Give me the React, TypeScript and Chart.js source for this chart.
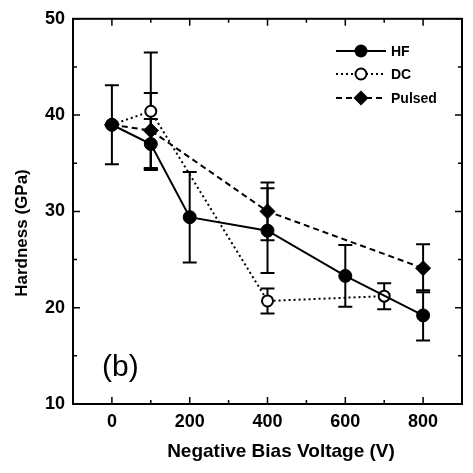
import React, { useEffect, useRef } from 'react';
import { Chart, registerables } from 'chart.js';

Chart.register(...registerables);

// ---- data ----
const hfX = [0, 100, 200, 400, 600, 800];
const hfY = [39, 37, 29.4, 28, 23.3, 19.2];
const hfErr = [4.1, 2.6, 4.7, 4.4, 3.2, 2.6];

const dcX = [0, 100, 400, 700];
const dcY = [39, 40.4, 20.7, 21.2];
const dcErr = [0, 6.1, 1.3, 1.35];

const pulsedX = [0, 100, 400, 800];
const pulsedY = [39, 38.4, 30, 24.1];
const pulsedErr = [0, 3.9, 3.0, 2.5];

const xTicks = [0, 200, 400, 600, 800];
const xMinorTicks = [100, 300, 500, 700];
const yTicks = [10, 20, 30, 40, 50];
const yMinorTicks = [15, 25, 35, 45];

const seriesNames = ['HF', 'DC', 'Pulsed'];
const xTitle = 'Negative Bias Voltage (V)';
const yTitle = 'Hardness (GPa)';
const panelLabel = '(b)';

const FONT = '"Liberation Sans", Arial, Helvetica, sans-serif';

function drawMarker(ctx: CanvasRenderingContext2D, kind: string, x: number, y: number) {
  ctx.save();
  ctx.setLineDash([]);
  ctx.strokeStyle = '#000';
  if (kind === 'HF') {
    ctx.fillStyle = '#000';
    ctx.beginPath();
    ctx.arc(x, y, 6.5, 0, Math.PI * 2);
    ctx.fill();
  } else if (kind === 'DC') {
    ctx.fillStyle = '#fff';
    ctx.lineWidth = 2;
    ctx.beginPath();
    ctx.arc(x, y, 5.5, 0, Math.PI * 2);
    ctx.fill();
    ctx.stroke();
  } else {
    ctx.fillStyle = '#000';
    ctx.beginPath();
    ctx.moveTo(x, y - 7.5);
    ctx.lineTo(x + 7.5, y);
    ctx.lineTo(x, y + 7.5);
    ctx.lineTo(x - 7.5, y);
    ctx.closePath();
    ctx.fill();
  }
  ctx.restore();
}

const decorPlugin = {
  id: 'decor',
  beforeDatasetsDraw(chart: any) {
    const { ctx, scales } = chart;
    const xs = scales.x;
    const ys = scales.y;
    ctx.save();
    ctx.strokeStyle = '#000';
    ctx.lineWidth = 2;
    ctx.setLineDash([]);
    chart.data.datasets.forEach((ds: any) => {
      ds.data.forEach((p: any) => {
        if (!p.err) return;
        const px = xs.getPixelForValue(p.x);
        const top = ys.getPixelForValue(p.y + p.err);
        const bot = ys.getPixelForValue(p.y - p.err);
        ctx.beginPath();
        ctx.moveTo(px, top);
        ctx.lineTo(px, bot);
        ctx.moveTo(px - 7, top);
        ctx.lineTo(px + 7, top);
        ctx.moveTo(px - 7, bot);
        ctx.lineTo(px + 7, bot);
        ctx.stroke();
      });
    });
    ctx.restore();
  },
  afterDraw(chart: any) {
    const { ctx, chartArea, scales } = chart;
    const xs = scales.x;
    const ys = scales.y;
    const { left, right, top, bottom } = chartArea;
    ctx.save();
    ctx.strokeStyle = '#000';
    ctx.lineWidth = 2;
    ctx.setLineDash([]);
    ctx.strokeRect(left, top, right - left, bottom - top);

    // inward ticks on all four sides
    ctx.lineWidth = 1.5;
    const tickX = (v: number, len: number) => {
      const px = xs.getPixelForValue(v);
      ctx.beginPath();
      ctx.moveTo(px, bottom);
      ctx.lineTo(px, bottom - len);
      ctx.moveTo(px, top);
      ctx.lineTo(px, top + len);
      ctx.stroke();
    };
    const tickY = (v: number, len: number) => {
      const py = ys.getPixelForValue(v);
      ctx.beginPath();
      ctx.moveTo(left, py);
      ctx.lineTo(left + len, py);
      ctx.moveTo(right, py);
      ctx.lineTo(right - len, py);
      ctx.stroke();
    };
    xTicks.forEach((v) => tickX(v, 7));
    xMinorTicks.forEach((v) => tickX(v, 4));
    yTicks.forEach((v) => tickY(v, 7));
    yMinorTicks.forEach((v) => tickY(v, 4));

    // legend
    const legendY = [51, 74, 98];
    const dashes: number[][] = [[], [2, 3], [6, 4]];
    seriesNames.forEach((name, i) => {
      const y = legendY[i];
      ctx.save();
      ctx.lineWidth = 2;
      ctx.setLineDash(dashes[i]);
      ctx.beginPath();
      ctx.moveTo(336, y);
      ctx.lineTo(386, y);
      ctx.stroke();
      ctx.restore();
      drawMarker(ctx, name, 361, y);
      ctx.fillStyle = '#000';
      ctx.font = `bold 14px ${FONT}`;
      ctx.textAlign = 'left';
      ctx.textBaseline = 'middle';
      ctx.fillText(name, 391, y + 1);
    });

    // panel label
    ctx.fillStyle = '#000';
    ctx.font = `30px ${FONT}`;
    ctx.textAlign = 'left';
    ctx.textBaseline = 'middle';
    ctx.fillText(panelLabel, 102, 368);

    // axis titles
    ctx.font = `bold 19px ${FONT}`;
    ctx.textAlign = 'center';
    ctx.textBaseline = 'middle';
    ctx.fillText(xTitle, 281, 452);
    ctx.save();
    ctx.translate(22, 233);
    ctx.rotate(-Math.PI / 2);
    ctx.font = `bold 17px ${FONT}`;
    ctx.fillText(yTitle, 0, 0);
    ctx.restore();

    ctx.restore();
  },
};

export default function App() {
  const ref = useRef<HTMLCanvasElement>(null);
  useEffect(() => {
    const canvas = ref.current;
    if (!canvas) return;
    const mk = (xsArr: number[], ysArr: number[], errs: number[]) =>
      xsArr.map((x, i) => ({ x, y: ysArr[i], err: errs[i] }));
    const chart = new Chart(canvas, {
      type: 'line',
      data: {
        datasets: [
          {
            label: seriesNames[0],
            data: mk(hfX, hfY, hfErr) as any,
            borderColor: '#000',
            borderWidth: 2,
            pointStyle: 'circle',
            pointRadius: 6.5,
            pointBackgroundColor: '#000',
            pointBorderColor: '#000',
            pointBorderWidth: 1,
          },
          {
            label: seriesNames[1],
            data: mk(dcX, dcY, dcErr) as any,
            borderColor: '#000',
            borderWidth: 2,
            borderDash: [2, 3],
            pointStyle: 'circle',
            pointRadius: 5.5,
            pointBackgroundColor: '#fff',
            pointBorderColor: '#000',
            pointBorderWidth: 2,
          },
          {
            label: seriesNames[2],
            data: mk(pulsedX, pulsedY, pulsedErr) as any,
            borderColor: '#000',
            borderWidth: 2,
            borderDash: [6, 4],
            pointStyle: 'rectRot',
            pointRadius: 7.5,
            pointBackgroundColor: '#000',
            pointBorderColor: '#000',
            pointBorderWidth: 1,
          },
        ],
      },
      options: {
        animation: false,
        responsive: false,
        devicePixelRatio: 1,
        layout: { padding: { top: 15, right: 11, left: 0, bottom: 0 } },
        plugins: {
          legend: { display: false },
          tooltip: { enabled: false },
        },
        scales: {
          x: {
            type: 'linear',
            min: -100,
            max: 900,
            afterBuildTicks: (s: any) => {
              s.ticks = xTicks.map((v) => ({ value: v }));
            },
            afterFit: (s: any) => {
              s.height = 69;
            },
            grid: { display: false, drawTicks: false },
            border: { display: false },
            ticks: {
              padding: 7,
              color: '#000',
              maxRotation: 0,
              font: { family: FONT, size: 18, weight: 'bold' },
            },
          },
          y: {
            type: 'linear',
            min: 10,
            max: 50,
            afterBuildTicks: (s: any) => {
              s.ticks = yTicks.map((v) => ({ value: v }));
            },
            afterFit: (s: any) => {
              s.width = 73;
            },
            grid: { display: false, drawTicks: false },
            border: { display: false },
            ticks: {
              padding: 8,
              color: '#000',
              font: { family: FONT, size: 18, weight: 'bold' },
            },
          },
        },
      },
      plugins: [decorPlugin],
    });
    return () => chart.destroy();
  }, []);
  return (
    <div style={{ position: 'fixed', left: 0, top: 0, width: 473, height: 473, background: '#fff' }}>
      <canvas ref={ref} width={473} height={473} style={{ width: 473, height: 473, display: 'block' }} />
    </div>
  );
}
